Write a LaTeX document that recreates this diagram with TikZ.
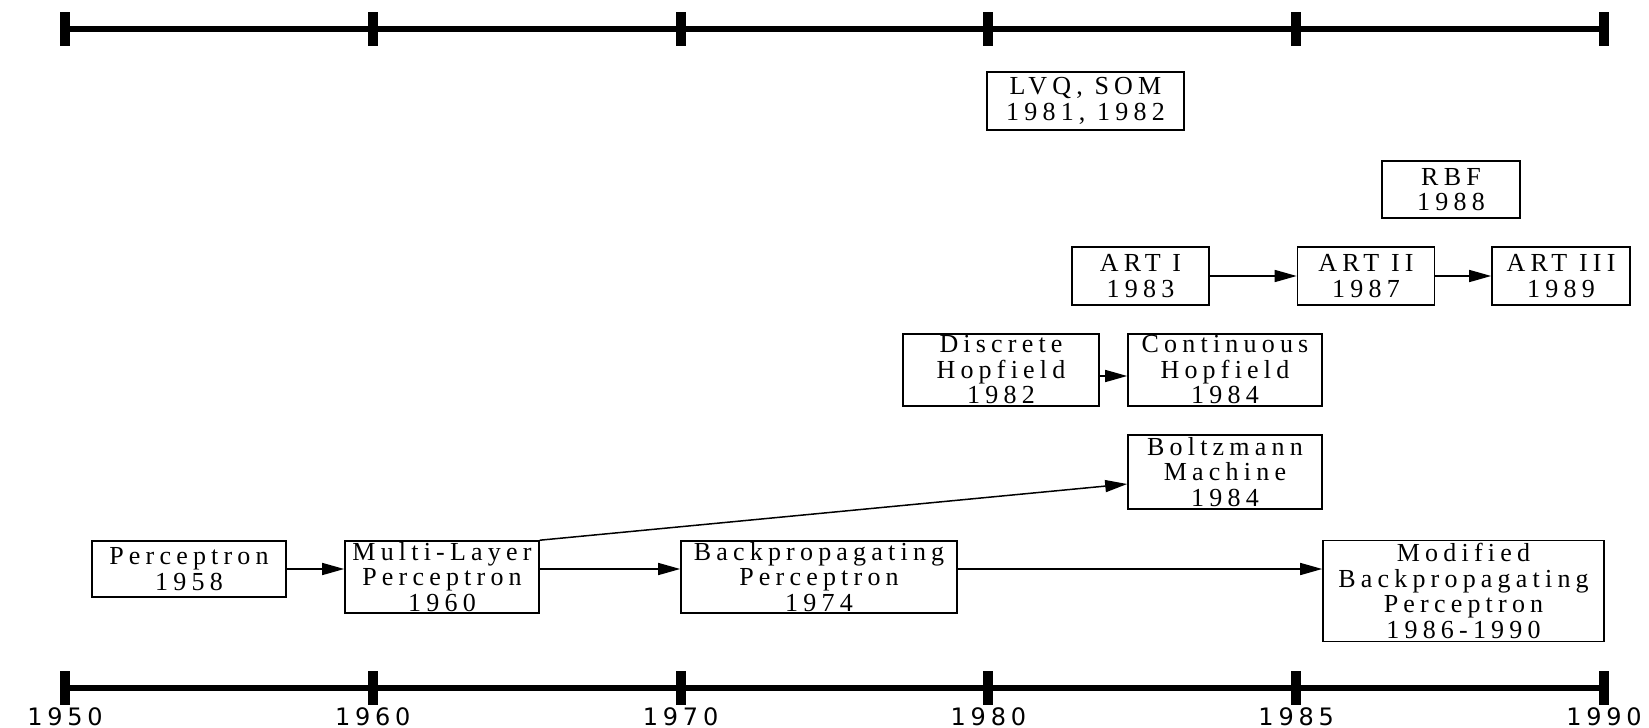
\documentclass[tikz,border=0pt]{standalone}
\usepackage{fontspec}
\newfontfamily\boxfont{Liberation Serif}[LetterSpace=20]
\newfontfamily\yearfont{DejaVu Sans}[LetterSpace=20]
\usetikzlibrary{arrows.meta}

\tikzset{
  yrbox/.style={draw, line width=1.6pt, align=center, inner sep=0pt,
    font=\boxfont\fontsize{26}{25.5}\selectfont},
  link/.style={line width=1.5pt, -{Triangle[length=22pt,width=12pt]}},
  axisline/.style={line width=6pt},
  tickmark/.style={line width=10pt},
}

\begin{document}
\begin{tikzpicture}[x=1pt,y=-1pt]
  \useasboundingbox (0,0) rectangle (1649,728);
  % time axes, top and bottom
  \draw[axisline] (65,29) -- (1604,29);
  \draw[axisline] (65,688) -- (1604,688);
  \foreach \x/\yr in {65/1950,372.8/1960,680.6/1970,988.4/1980,1296.2/1985,1604/1990}{
    \draw[tickmark] (\x,12) -- (\x,46);
    \draw[tickmark] (\x,671) -- (\x,705);
    \node[anchor=base, inner sep=0pt, font=\yearfont\fontsize{24}{26}\selectfont] (lab\yr) at (\x,725) {\yr};
  }
  % networks
  \node[yrbox, minimum width=194pt, minimum height=56pt] (per) at (189,569) {Perceptron\\1958};
  \node[yrbox, minimum width=194pt, minimum height=72pt] (ml) at (442,577) {Multi-Layer\\Perceptron\\1960};
  \node[yrbox, minimum width=276pt, minimum height=72pt] (bp) at (819,577) {Backpropagating\\Perceptron\\1974};
  \node[yrbox, minimum width=281pt, minimum height=101pt] (mbp) at (1463.5,591) {Modified\\Backpropagating\\Perceptron\\1986-1990};
  \node[yrbox, minimum width=194pt, minimum height=74pt] (bm) at (1225,472) {Boltzmann\\Machine\\1984};
  \node[yrbox, minimum width=196pt, minimum height=72pt] (dh) at (1001,370) {Discrete\\Hopfield\\1982};
  \node[yrbox, minimum width=194pt, minimum height=72pt] (ch) at (1225,370) {Continuous\\Hopfield\\1984};
  \node[yrbox, minimum width=137pt, minimum height=58pt] (art1) at (1140.5,276) {ART I\\1983};
  \node[yrbox, minimum width=137pt, minimum height=58pt] (art2) at (1366,276) {ART II\\1987};
  \node[yrbox, minimum width=138pt, minimum height=58pt] (art3) at (1561,276) {ART III\\1989};
  \node[yrbox, minimum width=138pt, minimum height=57pt] (rbf) at (1451,189.5) {RBF\\1988};
  \node[yrbox, minimum width=197pt, minimum height=58pt] (lvq) at (1085.5,101) {LVQ, SOM\\1981, 1982};
  % links
  \draw[link] (per.east) -- (per.east -| ml.west);
  \draw[link] (ml.east |- per.east) -- (per.east -| bp.west);
  \draw[link] (bp.east |- per.east) -- (per.east -| mbp.west);
  \draw[link] (ml.north east) -- ([yshift=-12pt]bm.west);
  \draw[link] ([yshift=-6pt]dh.east) -- ([yshift=-6pt]ch.west);
  \draw[link] (art1) -- (art2);
  \draw[link] (art2) -- (art3);
\end{tikzpicture}
\end{document}
